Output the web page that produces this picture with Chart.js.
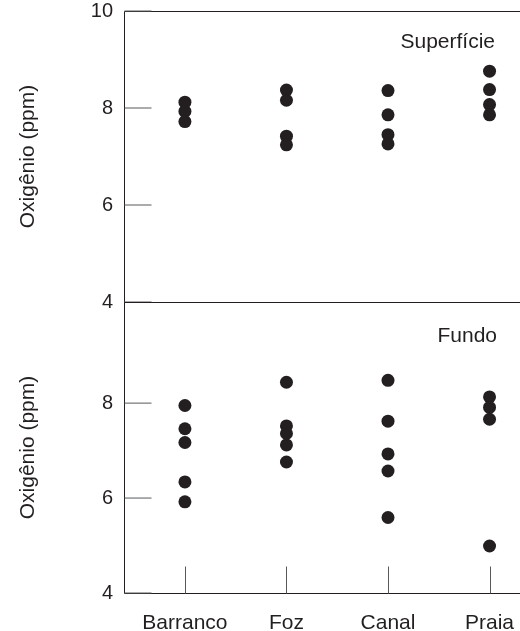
<!DOCTYPE html>
<html>
<head>
<meta charset="utf-8">
<script src="https://cdn.jsdelivr.net/npm/chart.js"></script>
<style>
  html, body { margin: 0; padding: 0; background: #fff; }
  #wrap { position: relative; width: 520px; height: 631px; }
  #wrap canvas { position: absolute; left: 0; top: 0; }
</style>
</head>
<body>
<div id="wrap">
  <canvas id="chart-top" width="520" height="631"></canvas>
  <canvas id="chart-bottom" width="520" height="631"></canvas>
</div>
<script>
// Sites along the estuary
const sites = ['Barranco', 'Foz', 'Canal', 'Praia'];

// Oxygen readings (ppm), one list per site
const surfaceOxygen = [
  [8.12, 7.93, 7.72],
  [8.37, 8.16, 7.42, 7.24],
  [8.36, 7.86, 7.45, 7.26],
  [8.76, 8.38, 8.07, 7.86]
];
const bottomOxygen = [
  [7.95, 7.46, 7.17, 6.34, 5.92],
  [8.44, 7.52, 7.36, 7.12, 6.76],
  [8.48, 7.62, 6.93, 6.57, 5.59],
  [8.13, 7.91, 7.66, 4.99]
];

// Tick labels
const surfaceTicks = [4, 6, 8, 10];
const bottomTicks = [4, 6, 8];

const yTitle = 'Oxigênio (ppm)';
const ink = '#231f20';
const fontFamily = '"Liberation Sans", Arial, Helvetica, sans-serif';

// Turn the per-site lists into scatter points
function toPoints(values) {
  const points = [];
  values.forEach((list, i) => {
    list.forEach(v => points.push({ x: i + 1, y: v }));
  });
  return points;
}

// Frame, inward tick marks and panel name
const panelFrame = {
  id: 'panelFrame',
  beforeDatasetsDraw(chart, args, opts) {
    const { ctx, chartArea: area } = chart;
    const left = Math.floor(area.left) + 0.5;
    const top = Math.floor(area.top) + 0.5;
    const bottom = Math.floor(area.bottom) + 0.5;
    ctx.save();

    // frame lines
    ctx.strokeStyle = ink;
    ctx.lineWidth = 1;
    ctx.beginPath();
    ctx.moveTo(area.right, top);
    ctx.lineTo(left, top);
    ctx.lineTo(left, bottom);
    ctx.lineTo(area.right, bottom);
    ctx.stroke();

    // tick marks drawn into the plot
    ctx.strokeStyle = '#58595b';
    ctx.beginPath();
    const yScale = chart.scales.y;
    yScale.ticks.forEach(t => {
      const py = yScale.getPixelForValue(t.value);
      ctx.moveTo(left, py);
      ctx.lineTo(left + opts.markLength, py);
    });
    if (opts.xMarks) {
      const xScale = chart.scales.x;
      xScale.ticks.forEach(t => {
        const px = Math.round(xScale.getPixelForValue(t.value)) + 0.5;
        ctx.moveTo(px, bottom);
        ctx.lineTo(px, bottom - opts.markLength);
      });
    }
    ctx.stroke();

    // panel name
    ctx.fillStyle = ink;
    ctx.font = '21px ' + fontFamily;
    ctx.textAlign = 'right';
    ctx.textBaseline = 'alphabetic';
    ctx.fillText(opts.label, area.right - opts.labelRight, area.top + opts.labelDown);
    ctx.restore();
  }
};

function makeChart(canvasId, values, ticks, yMax, padding, showX, panel) {
  return new Chart(document.getElementById(canvasId), {
    type: 'scatter',
    data: {
      datasets: [{
        data: toPoints(values),
        backgroundColor: ink,
        borderWidth: 0,
        pointRadius: 6.5
      }]
    },
    options: {
      responsive: false,
      animation: false,
      devicePixelRatio: 1,
      events: [],
      layout: { padding: padding, autoPadding: false },
      plugins: {
        legend: { display: false },
        tooltip: { enabled: false },
        panelFrame: panel
      },
      scales: {
        x: {
          type: 'linear',
          display: showX,
          min: 0.4,
          max: 4.3,
          afterBuildTicks: scale => {
            scale.ticks = sites.map((s, i) => ({ value: i + 1 }));
          },
          afterFit: scale => {
            scale.height = showX ? 38 : 0;
            scale.paddingLeft = 0;
            scale.paddingRight = 0;
          },
          grid: { display: false, drawTicks: false },
          border: { display: false },
          ticks: {
            padding: 18,
            color: ink,
            font: { family: fontFamily, size: 21 },
            callback: value => sites[Math.round(value) - 1]
          }
        },
        y: {
          type: 'linear',
          min: 4,
          max: yMax,
          afterBuildTicks: scale => {
            scale.ticks = ticks.map(v => ({ value: v }));
          },
          afterFit: scale => {
            scale.width = 124;
            scale.paddingTop = 0;
            scale.paddingBottom = 0;
          },
          grid: { display: false, drawTicks: false },
          border: { display: false },
          ticks: {
            padding: 11,
            color: ink,
            font: { family: fontFamily, size: 20 }
          },
          title: {
            display: true,
            text: yTitle,
            color: ink,
            font: { family: fontFamily, size: 21 },
            padding: { top: 16, bottom: 0 }
          }
        }
      }
    },
    plugins: [panelFrame]
  });
}

// Upper panel: surface water
makeChart('chart-top', surfaceOxygen, surfaceTicks, 10,
  { top: 11, bottom: 329, left: 0, right: 0 }, false,
  { label: 'Superfície', labelRight: 25, labelDown: 37, markLength: 27, xMarks: false });

// Lower panel: bottom water
makeChart('chart-bottom', bottomOxygen, bottomTicks, 10.13,
  { top: 302, bottom: 0, left: 0, right: 0 }, true,
  { label: 'Fundo', labelRight: 23, labelDown: 39.5, markLength: 27, xMarks: true });
</script>
</body>
</html>
